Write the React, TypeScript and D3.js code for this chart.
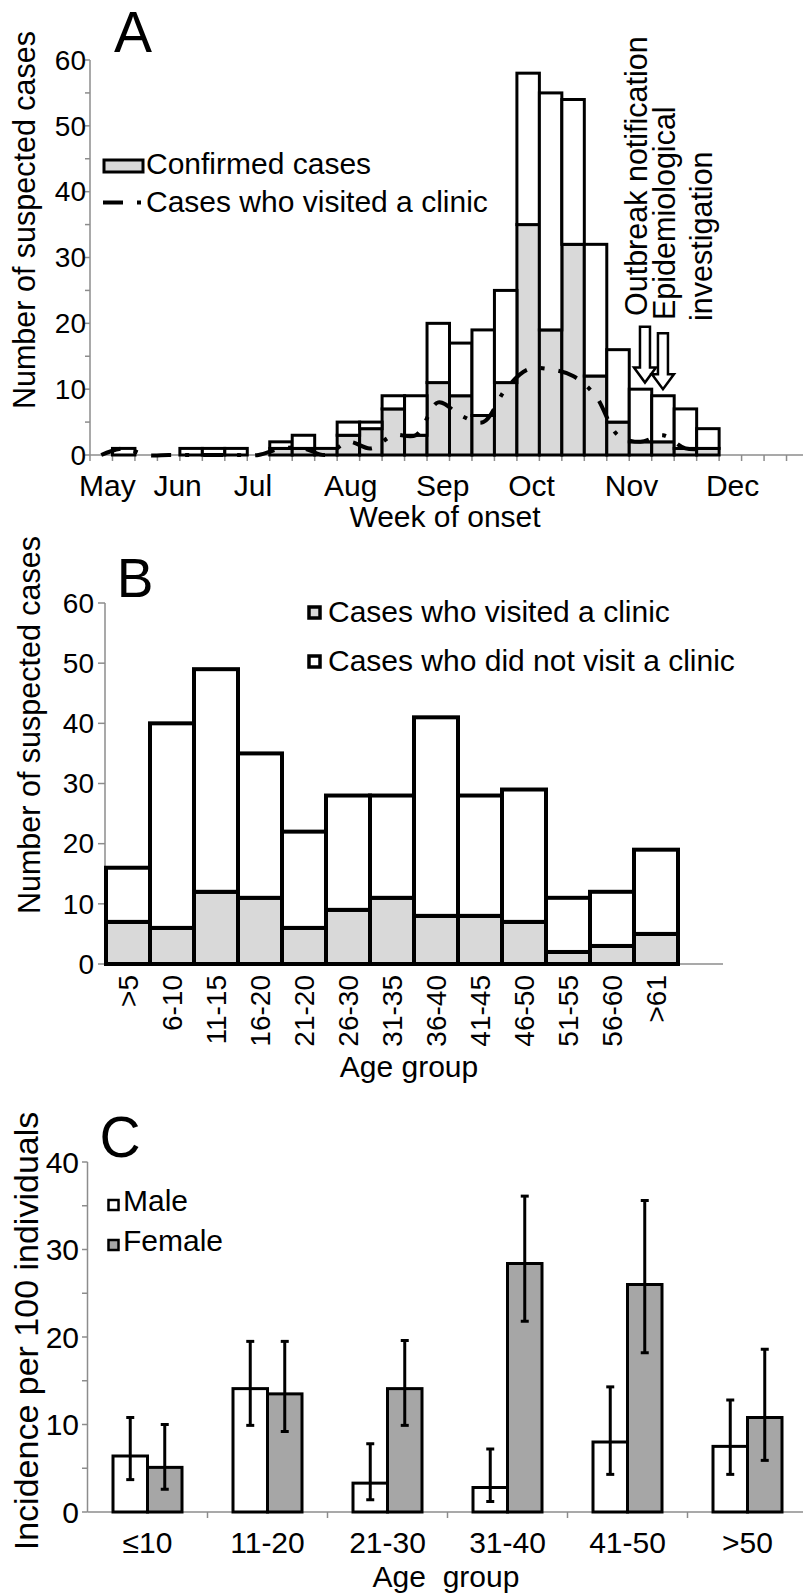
import React, { useEffect, useRef } from 'react';
import * as d3 from 'd3';

// Panel A: weekly epidemic curve (week 0 = first week of May)
const weekTotals = [0, 1, 0, 0, 1, 1, 1, 0, 2, 3, 1, 5, 5, 9, 9, 20, 17, 19, 25, 58, 55, 54, 32, 16, 10, 9, 7, 4];
const weekConfirmed = [0, 0, 0, 0, 0, 0, 0, 0, 1, 1, 1, 3, 4, 7, 3, 11, 9, 6, 11, 35, 19, 32, 12, 5, 2, 2, 1, 1];
const weekClinic = [0, 1, 0, 0, 0, 0, 0, 0, 1, 1, 0, 2, 1, 3, 3, 8, 6, 5, 10, 13, 13, 12, 9, 3, 2, 3, 1, 1];
const monthLabels = ['May', 'Jun', 'Jul', 'Aug', 'Sep', 'Oct', 'Nov', 'Dec'];
const monthWeeks = [0.27, 3.4, 6.75, 11.1, 15.2, 19.15, 23.6, 28.1];
const notes = ['Outbreak notification', 'Epidemiological', 'investigation'];
const arrowWeeks = [24.7, 25.5];
const arrowTips = [11, 10];
const arrowTops = [19.5, 18.5];

// Panel B: age groups
const ageGroups = ['>5', '6-10', '11-15', '16-20', '21-20', '26-30', '31-35', '36-40', '41-45', '46-50', '51-55', '56-60', '>61'];
const visitedClinic = [7, 6, 12, 11, 6, 9, 11, 8, 8, 7, 2, 3, 5];
const notVisitedClinic = [9, 34, 37, 24, 16, 19, 17, 33, 20, 22, 9, 9, 14];

// Panel C: incidence by sex
const sexGroups = ['\u226410', '11-20', '21-30', '31-40', '41-50', '>50'];
const maleRate = [6.4, 14.1, 3.3, 2.8, 8.0, 7.5];
const maleLow = [3.7, 9.9, 1.4, 1.2, 4.3, 4.3];
const maleHigh = [10.8, 19.5, 7.8, 7.2, 14.3, 12.8];
const femaleRate = [5.1, 13.5, 14.1, 28.4, 26.0, 10.8];
const femaleLow = [2.6, 9.2, 9.9, 21.8, 18.2, 5.9];
const femaleHigh = [10.0, 19.5, 19.6, 36.1, 35.6, 18.6];

const FONT = '"Liberation Sans", Arial, Helvetica, sans-serif';
const AXIS = '#8c8c8c';
const LIGHT = '#d9d9d9';
const DARK = '#a6a6a6';

const App = () => {
  const ref = useRef<SVGSVGElement>(null);

  useEffect(() => {
    const svg = d3.select(ref.current);
    svg.selectAll('*').remove();
    svg.attr('font-family', FONT);

    const vText = (g: any, txt: string, x: number, y: number, size: number, anchor = 'middle', dy = '0.35em') =>
      g.append('text')
        .attr('x', x).attr('y', y)
        .attr('transform', `rotate(-90,${x},${y})`)
        .attr('text-anchor', anchor)
        .attr('dy', dy)
        .attr('font-size', size)
        .text(txt);

    // ---------------- Panel A ----------------
    const a = svg.append('g');
    const xA = d3.scaleLinear().domain([0, 32]).range([90, 809]);
    const yA = d3.scaleLinear().domain([0, 60]).range([455, 60]);

    a.append('line').attr('x1', xA(0)).attr('x2', xA(0)).attr('y1', yA(60)).attr('y2', yA(0))
      .attr('stroke', AXIS).attr('stroke-width', 1.5);
    a.selectAll('.ytick').data(d3.range(0, 61, 5)).enter().append('line')
      .attr('x1', xA(0) - 5).attr('x2', xA(0)).attr('y1', d => yA(d)).attr('y2', d => yA(d))
      .attr('stroke', AXIS).attr('stroke-width', 1.5);
    a.selectAll('.ylab').data(d3.range(0, 61, 10)).enter().append('text')
      .attr('x', xA(0) - 4).attr('y', d => yA(d)).attr('dy', '0.35em')
      .attr('text-anchor', 'end').attr('font-size', 28).text(d => d);

    a.append('line').attr('x1', xA(0)).attr('x2', 803).attr('y1', yA(0)).attr('y2', yA(0))
      .attr('stroke', AXIS).attr('stroke-width', 1.5);
    a.selectAll('.xtick').data(d3.range(0, 32)).enter().append('line')
      .attr('x1', d => xA(d)).attr('x2', d => xA(d)).attr('y1', yA(0)).attr('y2', yA(0) + 6)
      .attr('stroke', AXIS).attr('stroke-width', 1.5);

    const weeks = weekTotals.map((t, i) => ({ i, t, c: weekConfirmed[i] }));
    a.selectAll('.conf').data(weeks.filter(d => d.c > 0)).enter().append('rect')
      .attr('x', d => xA(d.i)).attr('width', d => xA(d.i + 1) - xA(d.i))
      .attr('y', d => yA(d.c)).attr('height', d => yA(0) - yA(d.c))
      .attr('fill', LIGHT).attr('stroke', '#000').attr('stroke-width', 3);
    a.selectAll('.rest').data(weeks.filter(d => d.t > d.c)).enter().append('rect')
      .attr('x', d => xA(d.i)).attr('width', d => xA(d.i + 1) - xA(d.i))
      .attr('y', d => yA(d.t)).attr('height', d => yA(d.c) - yA(d.t))
      .attr('fill', '#fff').attr('stroke', '#000').attr('stroke-width', 3);

    const clinicLine = d3.line<number>()
      .x((d, i) => xA(i + 0.5))
      .y(d => yA(d))
      .curve(d3.curveCatmullRom.alpha(0.5));
    a.append('path').attr('d', clinicLine(weekClinic))
      .attr('fill', 'none').attr('stroke', '#000').attr('stroke-width', 4)
      .attr('stroke-dasharray', '20,14,4,14');

    // legend A
    a.append('rect').attr('x', 104).attr('y', 160).attr('width', 39).attr('height', 12)
      .attr('fill', LIGHT).attr('stroke', '#000').attr('stroke-width', 3);
    a.append('text').attr('x', 146).attr('y', 174).attr('font-size', 30).text('Confirmed cases');
    a.append('line').attr('x1', 103).attr('x2', 143).attr('y1', 202.5).attr('y2', 202.5)
      .attr('stroke', '#000').attr('stroke-width', 4).attr('stroke-dasharray', '20,14,4,14');
    a.append('text').attr('x', 146).attr('y', 212).attr('font-size', 30).text('Cases who visited a clinic');

    // annotations
    vText(a, notes[0], 647, 316, 30.5, 'start', '0');
    vText(a, notes[1], 675, 320, 30.5, 'start', '0');
    vText(a, notes[2], 712, 321, 30.5, 'start', '0');
    arrowWeeks.forEach((w, k) => {
      const cx = xA(w);
      const top = yA(arrowTops[k]);
      const tip = yA(arrowTips[k]);
      const neck = tip - 15;
      const path = `M${cx - 5},${top} L${cx + 5},${top} L${cx + 5},${neck} L${cx + 11},${neck} L${cx},${tip} L${cx - 11},${neck} L${cx - 5},${neck} Z`;
      a.append('path').attr('d', path).attr('fill', '#fff').attr('stroke', '#000').attr('stroke-width', 2.5)
        .attr('stroke-linejoin', 'miter');
    });

    a.selectAll('.month').data(monthLabels).enter().append('text')
      .attr('x', (d, i) => xA(monthWeeks[i] + 0.5)).attr('y', 496)
      .attr('text-anchor', 'middle').attr('font-size', 30).text(d => d);
    a.append('text').attr('x', 445).attr('y', 527).attr('text-anchor', 'middle')
      .attr('font-size', 30).text('Week of onset');
    vText(a, 'Number of suspected cases', 24, 220, 30.5);
    a.append('text').attr('x', 133).attr('y', 52).attr('text-anchor', 'middle')
      .attr('font-size', 57).text('A');

    // ---------------- Panel B ----------------
    const b = svg.append('g');
    const xB = d3.scaleBand().domain(ageGroups).range([106, 678]).padding(0);
    const yB = d3.scaleLinear().domain([0, 60]).range([964, 603]);

    b.append('line').attr('x1', 105).attr('x2', 105).attr('y1', yB(60)).attr('y2', yB(0))
      .attr('stroke', AXIS).attr('stroke-width', 1.5);
    b.selectAll('.ytick').data(d3.range(0, 61, 10)).enter().append('line')
      .attr('x1', 98).attr('x2', 105).attr('y1', d => yB(d)).attr('y2', d => yB(d))
      .attr('stroke', AXIS).attr('stroke-width', 1.5);
    b.selectAll('.ylab').data(d3.range(0, 61, 10)).enter().append('text')
      .attr('x', 94).attr('y', d => yB(d)).attr('dy', '0.35em')
      .attr('text-anchor', 'end').attr('font-size', 28).text(d => d);
    b.append('line').attr('x1', 105).attr('x2', 723).attr('y1', yB(0)).attr('y2', yB(0))
      .attr('stroke', AXIS).attr('stroke-width', 1.5);

    const ages = ageGroups.map((g, i) => ({ g, v: visitedClinic[i], n: notVisitedClinic[i] }));
    b.selectAll('.vis').data(ages).enter().append('rect')
      .attr('x', d => xB(d.g)!).attr('width', xB.bandwidth())
      .attr('y', d => yB(d.v)).attr('height', d => yB(0) - yB(d.v))
      .attr('fill', LIGHT).attr('stroke', '#000').attr('stroke-width', 4);
    b.selectAll('.nvis').data(ages).enter().append('rect')
      .attr('x', d => xB(d.g)!).attr('width', xB.bandwidth())
      .attr('y', d => yB(d.v + d.n)).attr('height', d => yB(d.v) - yB(d.v + d.n))
      .attr('fill', '#fff').attr('stroke', '#000').attr('stroke-width', 4);

    ageGroups.forEach(g => vText(b, g, xB(g)! + xB.bandwidth() / 2, 975, 28, 'end'));
    b.append('text').attr('x', 409).attr('y', 1077).attr('text-anchor', 'middle')
      .attr('font-size', 30).text('Age group');

    b.append('rect').attr('x', 309).attr('y', 607).attr('width', 11).attr('height', 11)
      .attr('fill', LIGHT).attr('stroke', '#000').attr('stroke-width', 3.5);
    b.append('text').attr('x', 328).attr('y', 622).attr('font-size', 30).text('Cases who visited a clinic');
    b.append('rect').attr('x', 309).attr('y', 656).attr('width', 11).attr('height', 11)
      .attr('fill', '#fff').attr('stroke', '#000').attr('stroke-width', 3.5);
    b.append('text').attr('x', 328).attr('y', 671).attr('font-size', 30).text('Cases who did not visit a clinic');

    vText(b, 'Number of suspected cases', 29, 725, 30.5);
    b.append('text').attr('x', 135).attr('y', 597).attr('text-anchor', 'middle')
      .attr('font-size', 55).text('B');

    // ---------------- Panel C ----------------
    const c = svg.append('g');
    const x0 = d3.scaleBand().domain(sexGroups).range([87.5, 807.5]).paddingInner(0.425).paddingOuter(0.2125);
    const x1 = d3.scaleBand().domain(['Male', 'Female']).range([0, x0.bandwidth()]);
    const yC = d3.scaleLinear().domain([0, 40]).range([1512, 1162]);

    c.append('line').attr('x1', 87.5).attr('x2', 87.5).attr('y1', yC(40)).attr('y2', yC(0))
      .attr('stroke', AXIS).attr('stroke-width', 1.5);
    c.selectAll('.ytick').data(d3.range(0, 41, 5)).enter().append('line')
      .attr('x1', 82).attr('x2', 87.5).attr('y1', d => yC(d)).attr('y2', d => yC(d))
      .attr('stroke', AXIS).attr('stroke-width', 1.5);
    c.selectAll('.ylab').data(d3.range(0, 41, 10)).enter().append('text')
      .attr('x', 79).attr('y', d => yC(d)).attr('dy', '0.35em')
      .attr('text-anchor', 'end').attr('font-size', 30).text(d => d);
    c.append('line').attr('x1', 87.5).attr('x2', 803).attr('y1', yC(0)).attr('y2', yC(0))
      .attr('stroke', AXIS).attr('stroke-width', 1.5);
    const step = x0.step();
    c.selectAll('.xtick').data(d3.range(1, 6)).enter().append('line')
      .attr('x1', d => 87.5 + d * step).attr('x2', d => 87.5 + d * step)
      .attr('y1', yC(0)).attr('y2', yC(0) + 6)
      .attr('stroke', AXIS).attr('stroke-width', 1.5);

    const rows = sexGroups.flatMap((g, i) => [
      { g, s: 'Male', v: maleRate[i], lo: maleLow[i], hi: maleHigh[i] },
      { g, s: 'Female', v: femaleRate[i], lo: femaleLow[i], hi: femaleHigh[i] },
    ]);
    c.selectAll('.bar').data(rows).enter().append('rect')
      .attr('x', d => x0(d.g)! + x1(d.s)!).attr('width', x1.bandwidth())
      .attr('y', d => yC(d.v)).attr('height', d => yC(0) - yC(d.v))
      .attr('fill', d => (d.s === 'Male' ? '#fff' : DARK))
      .attr('stroke', '#000').attr('stroke-width', 3);
    const cx = (d: any) => x0(d.g)! + x1(d.s)! + x1.bandwidth() / 2;
    c.selectAll('.err').data(rows).enter().append('line')
      .attr('x1', cx).attr('x2', cx).attr('y1', d => yC(d.lo)).attr('y2', d => yC(d.hi))
      .attr('stroke', '#000').attr('stroke-width', 3);
    ['lo', 'hi'].forEach(k => {
      c.selectAll('.cap' + k).data(rows).enter().append('line')
        .attr('x1', d => cx(d) - 4).attr('x2', d => cx(d) + 4)
        .attr('y1', (d: any) => yC(d[k])).attr('y2', (d: any) => yC(d[k]))
        .attr('stroke', '#000').attr('stroke-width', 3);
    });

    c.selectAll('.xlab').data(sexGroups).enter().append('text')
      .attr('x', d => x0(d)! + x0.bandwidth() / 2).attr('y', 1553)
      .attr('text-anchor', 'middle').attr('font-size', 30).text(d => d);
    c.append('text').attr('x', 446).attr('y', 1587).attr('text-anchor', 'middle')
      .style('white-space', 'pre').attr('font-size', 30).text('Age  group');

    c.append('rect').attr('x', 108.5).attr('y', 1200).attr('width', 10).attr('height', 10)
      .attr('fill', '#fff').attr('stroke', '#000').attr('stroke-width', 2.5);
    c.append('text').attr('x', 123).attr('y', 1211).attr('font-size', 30).text('Male');
    c.append('rect').attr('x', 108.5).attr('y', 1240).attr('width', 10).attr('height', 10)
      .attr('fill', DARK).attr('stroke', '#000').attr('stroke-width', 2.5);
    c.append('text').attr('x', 123).attr('y', 1251).attr('font-size', 30).text('Female');

    vText(c, 'Incidence per 100 individuals', 26, 1331, 34);
    c.append('text').attr('x', 120).attr('y', 1157).attr('text-anchor', 'middle')
      .attr('font-size', 57).text('C');
  }, []);

  return (
    <>
      <style>{'body{margin:0}'}</style>
      <svg ref={ref} width={803} height={1594} style={{ display: 'block', background: '#fff' }} />
    </>
  );
};

export default App;
